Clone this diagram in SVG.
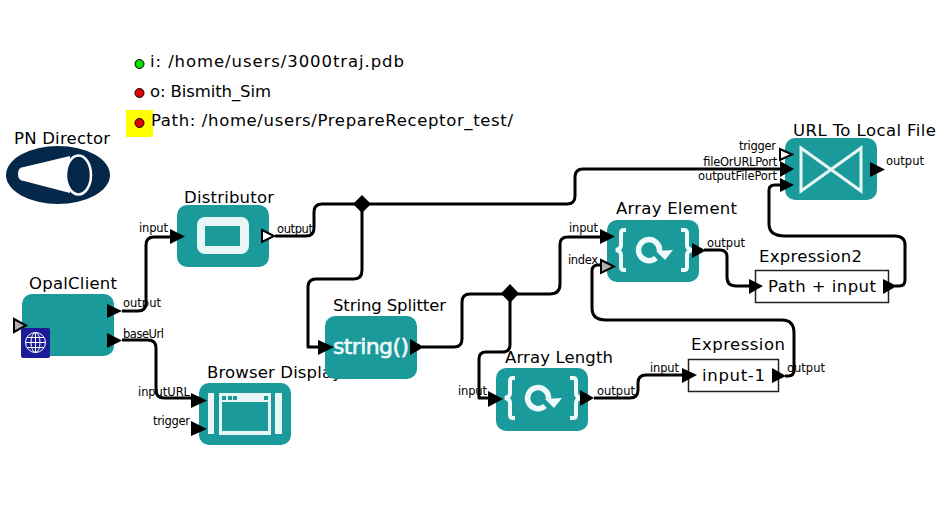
<svg xmlns="http://www.w3.org/2000/svg" width="939" height="522" viewBox="0 0 939 522">
<style>
text{font-family:"DejaVu Sans","Liberation Sans",sans-serif;fill:#000}
.t{font-size:16.500px}
.p{font-size:11.500px}
.box{fill:#1b9a9c}
.e{fill:#fff;stroke:#222;stroke-width:1.500}
.c{fill:none;stroke:#000;stroke-width:3;stroke-linejoin:round}
.bk{fill:#000}
.op{fill:#fff;stroke:#000;stroke-width:2}
.gr{fill:#b0b0b0;stroke:#000;stroke-width:2}
.led{stroke:#000;stroke-width:1}
.brk{fill:none;stroke:#f0fafa;stroke-width:4}
.ring{fill:none;stroke:#f0fafa;stroke-width:5.500}
</style>
<defs>
<g id="loop">
<path class="brk" d="M-27-20H-29Q-32-20-32-17V-5Q-32-1-37 0Q-32 1-32 5V17Q-32 20-29 20H-27M28-20H31Q34-20 34-17V-5Q34-1 39 0Q34 1 34 5V17Q34 20 31 20H28"/>
<path class="ring" d="M3 8A10.500 10.500 0 1 1 6.500 1"/>
<path fill="#f0fafa" d="M3 1L20 0L12 10Z"/>
</g>
</defs>

<rect x="126" y="110" width="27" height="27" fill="#ffff00"/>
<g id="param-i"><circle class="led" cx="139.500" cy="64" r="4.500" fill="#00e000"/><text class="t" x="150" y="67" textLength="254">i:  /home/users/3000traj.pdb</text></g>
<g id="param-o"><circle class="led" cx="139.500" cy="93" r="4.500" fill="#e80000"/><text class="t" x="150" y="97" textLength="121">o: Bismith_Sim</text></g>
<g id="param-path"><circle class="led" cx="139.500" cy="123" r="4.500" fill="#e80000"/><text class="t" x="151" y="126" textLength="362">Path:  /home/users/PrepareReceptor_test/</text></g>

<g id="pn-director">
<text class="t" x="14" y="144" textLength="96">PN Director</text>
<ellipse cx="58" cy="175" rx="52" ry="29" fill="#05284a"/>
<path d="M24 167L70 156V193L24 181Q18 181 18 174Q18 167 24 167Z" fill="#fff"/>
<ellipse cx="78.500" cy="175" rx="12.500" ry="19.500" fill="#05284a" stroke="#fff" stroke-width="2.500"/>
</g>

<g id="distributor">
<text class="t" x="184" y="203" textLength="90">Distributor</text>
<rect class="box" x="177" y="205" width="92" height="62" rx="10"/>
<rect x="197" y="217" width="52" height="37" rx="8" fill="#e8f6f6"/>
<rect x="205" y="226" width="35" height="20" class="box"/>
<path class="op" d="M262 230L274 236L262 242Z"/>
<path class="bk" d="M170 229L185 236.500L170 244Z"/>
<text class="p" x="139" y="232" textLength="29">input</text>
<text class="p" x="277" y="233" textLength="36">output</text>
</g>

<g id="opal-client">
<text class="t" x="29" y="289" textLength="88">OpalClient</text>
<rect class="box" x="22" y="294" width="92" height="62" rx="10"/>
<path class="gr" d="M14 319L26 325.500L14 332Z"/>
<rect x="21" y="328" width="29" height="30" rx="2" fill="#1c1c96"/>
<g fill="none" stroke="#fff" stroke-width="1">
<circle cx="35.500" cy="342.500" r="10"/><ellipse cx="35.500" cy="342.500" rx="4.500" ry="10"/><path d="M25.500 342.500H45.500M35.500 332.500V352.500M27 337.500H44M27 347.500H44"/>
</g>
<path class="bk" d="M107 304L122 311L107 318Z"/>
<path class="bk" d="M107 333L122 340.500L107 348Z"/>
<text class="p" x="123" y="307" textLength="38">output</text>
<text class="p" x="123" y="338" textLength="41">baseUrl</text>
</g>

<g id="browser-display">
<text class="t" x="207" y="378" textLength="135">Browser Display</text>
<rect class="box" x="199" y="383" width="92" height="62" rx="10"/>
<g fill="#e8f6f6">
<rect x="208" y="393" width="6" height="41"/><rect x="275" y="393" width="7" height="41"/>
<path fill-rule="evenodd" d="M219 393H271V435H219ZM222 402V431H268V402Z"/>
</g>
<g class="box"><rect x="222" y="396" width="4" height="4"/><rect x="228" y="396" width="4" height="4"/><rect x="233" y="396" width="4" height="4"/><rect x="264" y="396" width="4" height="4"/></g>
<path class="bk" d="M191 393L207 400.500L191 408Z"/>
<path class="bk" d="M191 421L207 429L191 436Z"/>
<text class="p" x="138" y="396" textLength="52">inputURL</text>
<text class="p" x="153" y="425" textLength="37">trigger</text>
</g>

<g id="string-splitter">
<text class="t" x="333" y="311" textLength="113">String Splitter</text>
<rect class="box" x="325" y="316" width="92" height="63" rx="10"/>
<text x="333" y="354" font-size="22" textLength="76" style="fill:#f0fafa;stroke:#f0fafa;stroke-width:.6">string()</text>
<path class="bk" d="M318 340L334 347L318 355Z"/>
<path class="bk" d="M410 339L424 347L410 355Z"/>
</g>

<g id="array-length">
<text class="t" x="505" y="363" textLength="108">Array Length</text>
<rect class="box" x="496" y="368" width="92" height="63" rx="10"/>
<use href="#loop" x="542" y="398"/>
<path class="bk" d="M488 391L503 399L488 407Z"/>
<path class="bk" d="M580 390L594 398L580 406Z"/>
<text class="p" x="458" y="395" textLength="29">input</text>
<text class="p" x="597" y="395" textLength="38">output</text>
</g>

<g id="array-element">
<text class="t" x="616" y="214" textLength="121">Array Element</text>
<rect class="box" x="607" y="220" width="92" height="62" rx="10"/>
<use href="#loop" x="653" y="250"/>
<path class="bk" d="M600 229L615 236.500L600 244Z"/>
<path class="gr" d="M601 260L614 266.500L601 273Z"/>
<path class="bk" d="M692 243L706 250.500L692 258Z"/>
<text class="p" x="569" y="232" textLength="29">input</text>
<text class="p" x="568" y="264" textLength="30">index</text>
<text class="p" x="707" y="247" textLength="38">output</text>
</g>

<g id="url-to-local-file">
<text class="t" x="793" y="136" textLength="143">URL To Local File</text>
<rect class="box" x="785" y="138" width="92" height="62" rx="10"/>
<path d="M801 148L861 191V148L801 191Z" fill="none" stroke="#e8f6f6" stroke-width="3"/>
<path class="op" d="M780 149L792 154.500L780 160Z"/>
<path class="bk" d="M780 161L794 169L780 177Z"/>
<path class="bk" d="M780 178L794 185L780 192Z"/>
<path class="bk" d="M870 162L885 169.500L870 177Z"/>
<text class="p" x="739" y="150" textLength="37">trigger</text>
<text class="p" x="703" y="166" textLength="74">fileOrURLPort</text>
<text class="p" x="698" y="180" textLength="79">outputFilePort</text>
<text class="p" x="886" y="165" textLength="38">output</text>
</g>

<g id="expression2">
<text class="t" x="759" y="262" textLength="103">Expression2</text>
<rect class="e" x="755.500" y="270.500" width="133" height="32"/>
<text class="t" x="768" y="292" textLength="108">Path + input</text>
<path class="bk" d="M749 279L763 286L749 294Z"/>
<path class="bk" d="M883 279L897 286L883 294Z"/>
</g>

<g id="expression">
<text class="t" x="691" y="350" textLength="94">Expression</text>
<rect class="e" x="688.500" y="359.500" width="90" height="32"/>
<text class="t" x="702" y="381" textLength="63">input-1</text>
<path class="bk" d="M682 368L697 375L682 383Z"/>
<path class="bk" d="M772 368L786 376L772 383Z"/>
<text class="p" x="650" y="372" textLength="29">input</text>
<text class="p" x="787" y="372" textLength="38">output</text>
</g>

<g id="connectors">
<path class="c" d="M122 311H138Q146 311 146 303V245Q146 237 154 237H170"/>
<path class="c" d="M122 340H148Q156 340 156 348V390Q156 398 164 398H192"/>
<path class="c" d="M275 236H306Q314 236 314 228V212Q314 204 322 204H567Q575 204 575 196V177Q575 169 583 169H782"/>
<path class="c" d="M362 204V270Q362 279 354 279H316Q308 279 308 287V347H320"/>
<path class="c" d="M422 347H454Q462 347 462 339V302Q462 294 470 294H550Q560 294 560 284V244Q560 237 568 237H602"/>
<path class="c" d="M510 294V345Q510 352 502 352H486Q479 352 479 359V398H490"/>
<path class="c" d="M594 398H630Q638 398 638 390V383Q638 375 646 375H684"/>
<path class="c" d="M704 250H720Q727 250 727 257V277Q727 286 736 286H751"/>
<path class="c" d="M785 376H788Q794 376 794 370V333Q794 320 782 320H606Q592 320 592 308V271Q592 265 598 265H602"/>
<path class="c" d="M895 286H899Q905 286 905 280V245Q905 236 895 236H785Q769 236 769 224V190Q769 185 775 185H782"/>
</g>

<g id="relation-1"><path class="bk" d="M362 195L371 204L362 213L353 204Z"/></g>
<g id="relation-2"><path class="bk" d="M510 284L519 293.500L510 303L501 293.500Z"/></g>
</svg>
